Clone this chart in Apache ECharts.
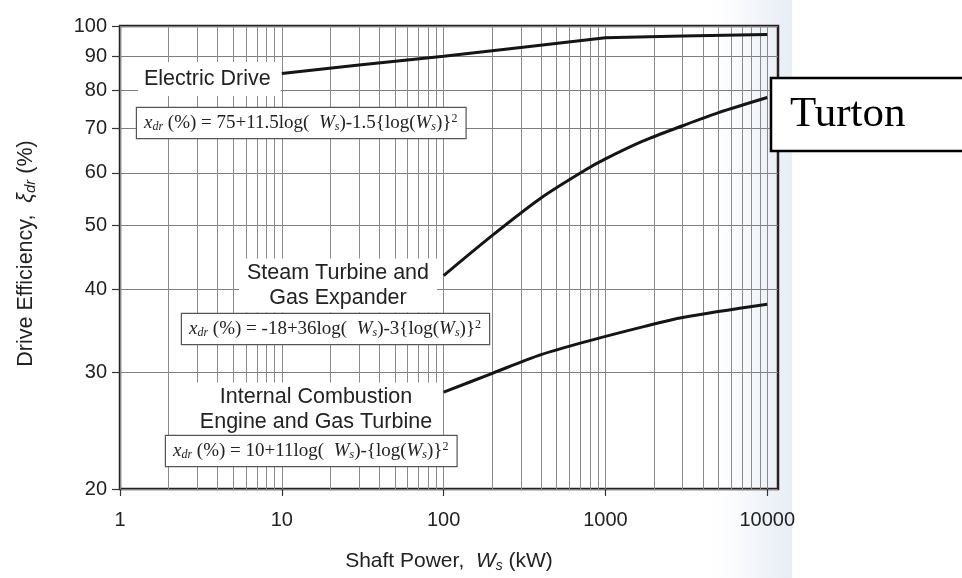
<!DOCTYPE html>
<html>
<head>
<meta charset="utf-8">
<script src="https://cdn.jsdelivr.net/npm/echarts@6/dist/echarts.min.js"></script>
<style>
html,body{margin:0;padding:0;background:#ffffff;}
#chart{width:962px;height:578px;}
</style>
</head>
<body>
<div id="chart"></div>
<script>
// ---------- data ----------
const xTickLabels = [1, 10, 100, 1000, 10000];
const xGridValues = [1, 2, 3, 4, 5, 6, 7, 8, 9,
  10, 20, 30, 40, 50, 60, 70, 80, 90,
  100, 200, 300, 400, 500, 600, 700, 800, 900,
  1000, 2000, 3000, 4000, 5000, 6000, 7000, 8000, 9000,
  10000];
const yTickLabels = [20, 30, 40, 50, 60, 70, 80, 90, 100];

const electricPower = [10, 30, 100, 300, 1000, 3000, 10000];
const electricEff   = [84.8, 87.3, 90.0, 92.8, 96.0, 96.6, 97.1];

const steamPower = [100, 200, 400, 750, 1000, 1700, 3000, 5000, 10000];
const steamEff   = [42.0, 48.3, 55.0, 60.6, 63.0, 67.0, 70.7, 74.0, 78.0];

const icPower = [100, 200, 400, 800, 1750, 3000, 10000];
const icEff   = [28.0, 29.9, 31.9, 33.5, 35.2, 36.3, 38.0];

const xMax = 11650;

// ---------- helpers ----------
function zip(a, b) { return a.map((v, i) => [v, b[i]]); }

const SANS = 'Liberation Sans';
const SERIF = 'Liberation Serif';
const eqRich = {
  i: { fontFamily: SERIF, fontSize: 19, fontStyle: 'italic', fill: '#222' },
  s: { fontFamily: SERIF, fontSize: 12, fontStyle: 'italic', fill: '#222', padding: [8, 0, 0, 0] },
  p: { fontFamily: SERIF, fontSize: 12, fill: '#222', padding: [0, 0, 8, 0] }
};
function eqBox(text, x, y) {
  return {
    type: 'text', x: x, y: y, z: 20,
    style: {
      text: text, fontFamily: SERIF, fontSize: 19, fill: '#222',
      textAlign: 'left', verticalAlign: 'middle',
      backgroundColor: '#ffffff', borderColor: '#555', borderWidth: 1.2,
      padding: [5, 8, 5, 7], rich: eqRich
    }
  };
}
function label(text, x, y, align, padding) {
  return {
    type: 'text', x: x, y: y, z: 20,
    style: {
      text: text, fontFamily: SANS, fontSize: 21.5, fill: '#222',
      textAlign: align, verticalAlign: 'middle', lineHeight: 25,
      backgroundColor: '#ffffff', padding: padding
    }
  };
}

const chart = echarts.init(document.getElementById('chart'), null, { renderer: 'canvas' });

const lineStyle = { color: '#151515', width: 3 };

const option = {
  animation: false,
  backgroundColor: '#ffffff',
  grid: {
    left: 120, top: 26, width: 658, height: 463,
    show: true, borderColor: '#2a2020', borderWidth: 2.5, backgroundColor: 'transparent'
  },
  xAxis: [
    {
      type: 'log', logBase: 10, min: 1, max: xMax, position: 'bottom',
      axisLine: { show: false },
      axisTick: { show: false, customValues: xGridValues },
      splitLine: { show: true, lineStyle: { color: '#8a8a8a', width: 1 } },
      minorSplitLine: { show: false },
      axisLabel: {
        customValues: xTickLabels, fontFamily: SANS, fontSize: 20, color: '#222', margin: 21,
        formatter: function (v) { return String(Math.round(v)); }
      },
      name: '{a|Shaft Power,  }{i|W}{s|s}{a| (kW)}',
      nameLocation: 'middle', nameGap: 61,
      nameTextStyle: {
        rich: {
          a: { fontFamily: SANS, fontSize: 21, color: '#222' },
          i: { fontFamily: SANS, fontSize: 21, fontStyle: 'italic', color: '#222' },
          s: { fontFamily: SANS, fontSize: 14, fontStyle: 'italic', color: '#222', padding: [9, 0, 0, 0] }
        }
      }
    },
    {
      type: 'log', logBase: 10, min: 1, max: xMax, position: 'bottom',
      axisLine: { show: false },
      axisTick: { show: true, customValues: xTickLabels, length: 7, lineStyle: { color: '#333', width: 1.2 } },
      axisLabel: { show: false },
      splitLine: { show: false }
    }
  ],
  yAxis: {
    type: 'log', logBase: 10, min: 20, max: 100,
    axisLine: { show: false },
    axisTick: { show: true, customValues: yTickLabels, length: 8, lineStyle: { color: '#333', width: 1.2 } },
    splitLine: { show: true, lineStyle: { color: '#7e7e7e', width: 1 } },
    axisLabel: { customValues: yTickLabels, fontFamily: SANS, fontSize: 20, color: '#222', margin: 13 },
    name: '{a|Drive Efficiency,  }{g|ξ}{s|dr}{a| (%)}',
    nameLocation: 'middle', nameGap: 82,
    nameTextStyle: {
      padding: [0, 0, 0, 8],
      rich: {
        a: { fontFamily: SANS, fontSize: 21.5, color: '#222' },
        g: { fontFamily: SANS, fontSize: 21.5, fontStyle: 'italic', color: '#222' },
        s: { fontFamily: SANS, fontSize: 15, fontStyle: 'italic', color: '#222', padding: [9, 0, 0, 0] }
      }
    }
  },
  series: [
    {
      name: 'Electric Drive', type: 'line', xAxisIndex: 0, yAxisIndex: 0,
      data: zip(electricPower, electricEff), showSymbol: false, symbol: 'none',
      smooth: false, lineStyle: lineStyle, z: 5
    },
    {
      name: 'Steam Turbine and Gas Expander', type: 'line', xAxisIndex: 0, yAxisIndex: 0,
      data: zip(steamPower, steamEff), showSymbol: false, symbol: 'none',
      smooth: 0.3, lineStyle: lineStyle, z: 5
    },
    {
      name: 'Internal Combustion Engine and Gas Turbine', type: 'line', xAxisIndex: 0, yAxisIndex: 0,
      data: zip(icPower, icEff), showSymbol: false, symbol: 'none',
      smooth: 0.3, lineStyle: lineStyle, z: 5
    }
  ],
  graphic: [
    {
      type: 'rect', z: -10, silent: true,
      shape: { x: 0, y: 0, width: 792, height: 578 },
      style: {
        fill: new echarts.graphic.LinearGradient(0, 0, 1, 0, [
          { offset: 0, color: 'rgba(255,255,255,0)' },
          { offset: 0.88, color: 'rgba(255,255,255,0)' },
          { offset: 0.96, color: '#f0f4f9' },
          { offset: 1, color: '#e7eef6' }
        ])
      }
    },
    label('Electric Drive', 138, 79, 'left', [3, 10, 6, 6]),
    label('Steam Turbine and\nGas Expander', 338, 285.5, 'center', [2, 8, 2, 8]),
    label('Internal Combustion\nEngine and Gas Turbine', 316, 409.5, 'center', [2, 6, 2, 6]),
    eqBox('{i|x}{s|dr} (%) = 75+11.5log(  {i|W}{s|s})-1.5{log({i|W}{s|s})}{p|2}', 137, 123),
    eqBox('{i|x}{s|dr} (%) = -18+36log(  {i|W}{s|s})-3{log({i|W}{s|s})}{p|2}', 182, 329),
    eqBox('{i|x}{s|dr} (%) = 10+11log(  {i|W}{s|s})-{log({i|W}{s|s})}{p|2}', 166, 451),
    {
      type: 'rect', z: 30,
      shape: { x: 771, y: 78, width: 200, height: 73 },
      style: { fill: '#ffffff', stroke: '#000000', lineWidth: 2.5 }
    },
    {
      type: 'text', x: 790, y: 115, z: 31,
      style: { text: 'Turton', fontFamily: SERIF, fontSize: 43, fill: '#000', textAlign: 'left', verticalAlign: 'middle' }
    }
  ]
};

chart.setOption(option);
</script>
</body>
</html>
